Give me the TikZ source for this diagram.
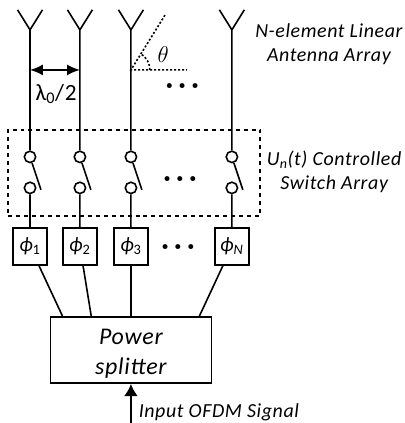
\documentclass[tikz,border=0pt]{standalone}
\usepackage{amsmath}
\usepackage{fontspec}
\setmainfont[LetterSpace=3]{Carlito}
\usepackage{tikz}
\usetikzlibrary{arrows.meta, positioning}

\begin{document}
\begin{tikzpicture} [auto, on grid, line width=1.2pt, font=\fontsize{15pt}{16pt}\selectfont\itshape,
		switch/.style ={circle, draw, inner sep=0pt, minimum size=0.3cm},
		phase/.style ={rectangle, draw, inner sep=0pt, minimum width=0.9cm, minimum height=0.98cm, font=\fontsize{15.5pt}{16pt}\selectfont\itshape},
		splitter/.style ={rectangle, draw, align=center, minimum width=4.26cm, minimum height=1.75cm, font=\fontsize{18pt}{23pt}\selectfont\itshape},
		array/.style ={rectangle, draw, dashed, inner sep=0pt, minimum width=6.67cm, minimum height=2.28cm},
		caption/.style ={align=center, inner sep=0pt},
		moredots/.style ={inner sep=0pt, font=\fontsize{20pt}{20pt}\selectfont\bfseries\upshape}]
		\useasboundingbox (0,0) rectangle (10.69,11.19);
		% switches
		\node[switch] (ST1) at (0.794,7.04) {};
		\node[switch] (ST2) [right=1.32cm of ST1] {};
		\node[switch] (ST3) [right=1.35cm of ST2] {};
		\node[switch] (ST4) [right=2.67cm of ST3] {};
		\node[switch] (SB1) [below=0.82cm of ST1] {};
		\node[switch] (SB2) [below=0.82cm of ST2] {};
		\node[switch] (SB3) [below=0.82cm of ST3] {};
		\node[switch] (SB4) [below=0.82cm of ST4] {};
		\coordinate[below right=0.87cm and 0.29cm of ST1] (B1);
		\coordinate[below right=0.87cm and 0.29cm of ST2] (B2);
		\coordinate[below right=0.87cm and 0.29cm of ST3] (B3);
		\coordinate[below right=0.87cm and 0.29cm of ST4] (B4);
		% antennas
		\coordinate[above=3.36cm of ST1] (A1);
		\coordinate[above=3.36cm of ST2] (A2);
		\coordinate[above=3.36cm of ST3] (A3);
		\coordinate[above=3.36cm of ST4] (A4);
		\coordinate[above left=0.53cm and 0.33cm of A1] (L1);
		\coordinate[above left=0.53cm and 0.33cm of A2] (L2);
		\coordinate[above left=0.53cm and 0.33cm of A3] (L3);
		\coordinate[above left=0.53cm and 0.33cm of A4] (L4);
		\coordinate[above right=0.53cm and 0.33cm of A1] (R1);
		\coordinate[above right=0.53cm and 0.33cm of A2] (R2);
		\coordinate[above right=0.53cm and 0.33cm of A3] (R3);
		\coordinate[above right=0.53cm and 0.33cm of A4] (R4);
		% phase shifters
		\node[phase] (P1) [below=1.55cm of SB1] {ϕ\textsubscript{\upshape 1}};
		\node[phase] (P2) [below=1.55cm of SB2] {ϕ\textsubscript{\upshape 2}};
		\node[phase] (P3) [below=1.55cm of SB3] {ϕ\textsubscript{\upshape 3}};
		\node[phase] (P4) [below=1.55cm of SB4] {ϕ\textsubscript{N}};
		\node[splitter] (PS) [below=2.74cm of P3] {\rule{0pt}{17pt}Power\\splitter};
		\coordinate[left=1.81cm of PS.north] (J1);
		\coordinate[left=1.05cm of PS.north] (J2);
		\coordinate[right=1.81cm of PS.north] (J4);
		\coordinate[below=1.03cm of PS.south] (IN);
		\node[array] (SA) at (3.546,6.615) {};
		% antenna lines
		\draw (L1) -- (A1) -- (R1) (A1) -- (ST1);
		\draw (L2) -- (A2) -- (R2) (A2) -- (ST2);
		\draw (L3) -- (A3) -- (R3) (A3) -- (ST3);
		\draw (L4) -- (A4) -- (R4) (A4) -- (ST4);
		\draw (ST1) -- (B1) (SB1) -- (P1);
		\draw (ST2) -- (B2) (SB2) -- (P2);
		\draw (ST3) -- (B3) (SB3) -- (P3);
		\draw (ST4) -- (B4) (SB4) -- (P4);
		\draw (P1) -- (J1);
		\draw (P2) -- (J2);
		\draw (P3) -- (PS);
		\draw (P4) -- (J4);
		\draw[-{Latex[length=0.32cm,width=0.36cm]}] (IN) -- (PS);
		% spacing and angle
		\coordinate[above=2.30cm of ST1] (D1);
		\coordinate[above=2.30cm of ST2] (D2);
		\coordinate[above=2.30cm of ST3] (O);
		\coordinate[right=1.48cm of O] (H);
		\coordinate[above right=1.45cm and 0.9cm of O] (T);
		\draw[{Latex[length=0.34cm,width=0.29cm]}-{Latex[length=0.34cm,width=0.29cm]}] (D1) -- (D2);
		\node[inner sep=0pt, font=\fontsize{17.5pt}{18pt}\selectfont\upshape] (LB) [below right=0.63cm and 0.69cm of D1, anchor=center] {λ\textsubscript{0}/2};
		\draw[dash pattern=on 1.5pt off 1.5pt] (T) -- (O) -- (H);
		\draw[dash pattern=on 1.5pt off 1.5pt] (O) ++(0:0.5) arc (0:58:0.5);
		\node[inner sep=0pt, font=\fontsize{17pt}{18pt}\selectfont] (TH) [above right=0.4cm and 0.85cm of O, anchor=center] {$\theta$};
		% dots
		\node[moredots] (M1) at (4.82,8.85) {·\,\kern1pt·\,\kern1pt·};
		\node[moredots] (M2) at (4.76,6.4) {·\,\kern1pt·\,\kern1pt·};
		\node[moredots] (M3) at (4.71,4.58) {·\,\kern1pt·\,\kern1pt·};
		% labels
		\node[caption] (AL) at (8.7,10.03) {N-element Linear\\[2pt]Antenna Array};
		\node[caption] (SL) at (8.84,6.64) {U\textsubscript{n}(t) Controlled\\[2pt]Switch Array};
		\node[inner sep=0pt, anchor=west] (IL) at (3.65,0.29) {Input OFDM Signal};
	\end{tikzpicture}
\end{document}
